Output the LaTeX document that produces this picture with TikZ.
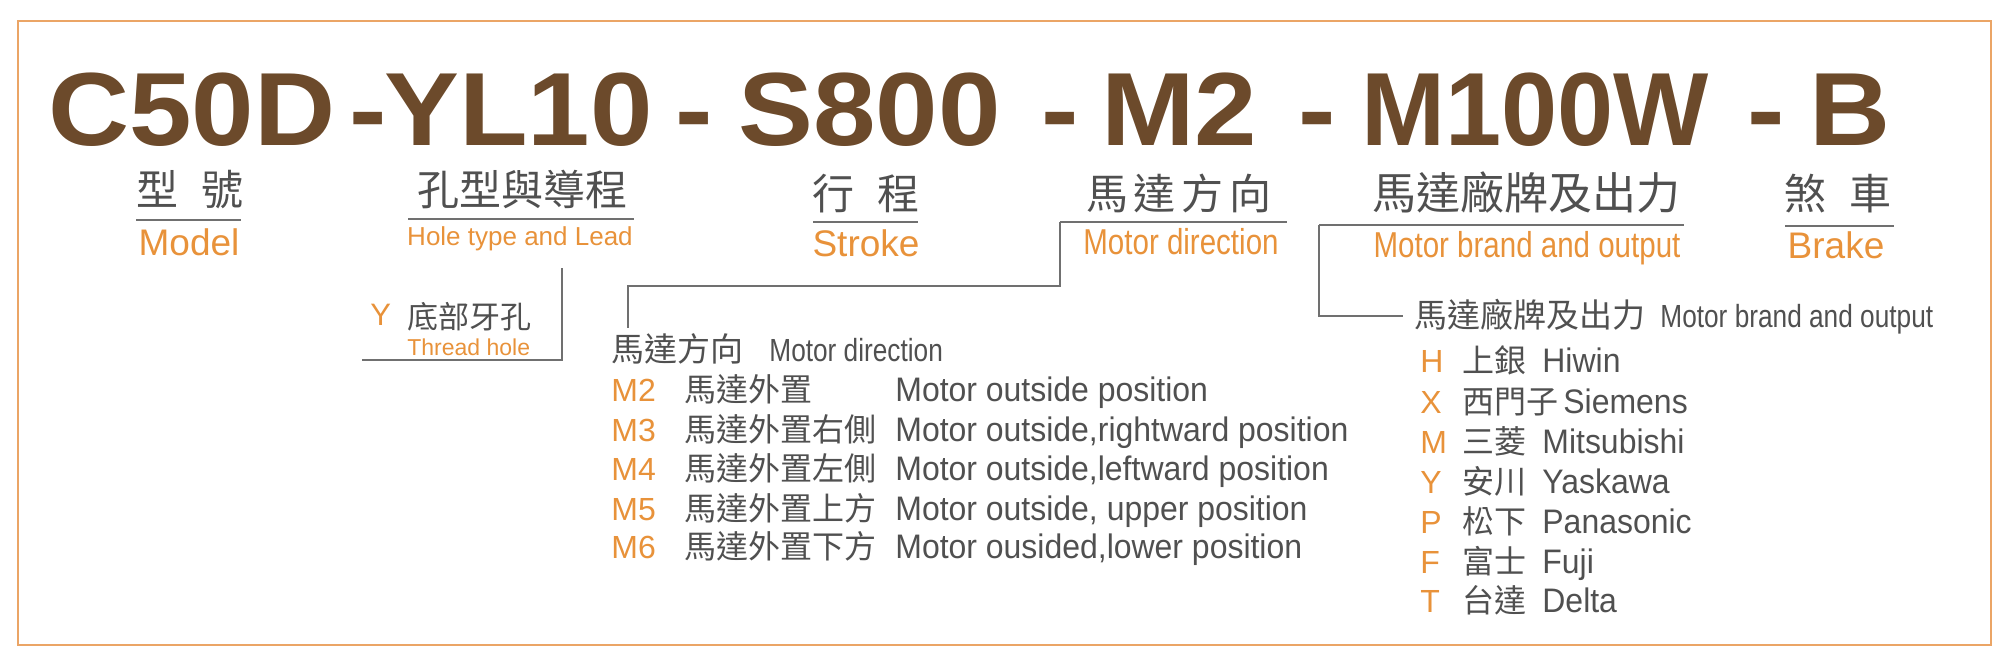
\documentclass[tikz,border=0pt]{standalone}
\usepackage{fontspec}
\setmainfont{Liberation Sans}
\newfontfamily\codefont{Liberation Sans}[FakeStretch=1.08]
\newfontfamily\codetight{Liberation Sans}[FakeStretch=0.97]
\newfontfamily\condfont{Liberation Sans}[FakeStretch=0.82]
\newfontfamily\rowfont{Liberation Sans}[FakeStretch=0.94]
\newfontfamily\cjk{Noto Sans CJK TC}
\definecolor{codebrown}{HTML}{6C4A2B}
\definecolor{labelorange}{HTML}{E8923A}
\definecolor{frameorange}{HTML}{EBA566}
\definecolor{textgray}{HTML}{505050}
\definecolor{linegray}{HTML}{707070}
\begin{document}
\begin{tikzpicture}[x=0.5pt,y=-0.5pt,inner sep=0pt,
  code/.style={font=\codefont\bfseries\fontsize{52}{52}\selectfont,text=codebrown,anchor=base west},
  codet/.style={font=\codetight\bfseries\fontsize{52}{52}\selectfont,text=codebrown,anchor=base west},
  head/.style={font=\cjk\fontsize{21}{21}\selectfont,text=textgray,anchor=base},
  sub/.style={font=\fontsize{18.5}{18.5}\selectfont,text=labelorange,anchor=base},
  subcond/.style={font=\condfont\fontsize{18}{18}\selectfont,text=labelorange,anchor=base},
  smallsub/.style={font=\fontsize{11.5}{11.5}\selectfont,text=labelorange,anchor=base west},
  letter/.style={font=\fontsize{16}{16}\selectfont,text=labelorange,anchor=base west},
  cjkrow/.style={font=\cjk\fontsize{16}{16}\selectfont,text=textgray,anchor=base west},
  rowtext/.style={font=\rowfont\fontsize{17}{17}\selectfont,text=textgray,anchor=base west},
  titlecjk/.style={font=\cjk\fontsize{16.5}{16.5}\selectfont,text=textgray,anchor=base west},
  titletext/.style={font=\condfont\fontsize{16}{16}\selectfont,text=textgray,anchor=base west},
  rule/.style={draw=linegray,line width=1pt}]
\useasboundingbox (0,0) rectangle (2010,660);
\draw [frameorange,line width=1pt] (18,21) rectangle (1991,645);
\node (c50d) at (48,145) [code] {C50D};
\node (dash1) at (349,145) [code] {-};
\node (yl10) at (384,145) [code] {YL10};
\node (dash2) at (675,145) [code] {-};
\node (s800) at (738,145) [code] {S800};
\node (dash3) at (1041,145) [code] {-};
\node (m2) at (1101,145) [code] {M2};
\node (dash4) at (1298,145) [code] {-};
\node (m100w) at (1361,145) [codet] {M100W};
\node (dash5) at (1747,145) [code] {-};
\node (b) at (1809,145) [code] {B};
\node (xinghao) at (190,205) [head] {型\hspace{0.55em}號};
\node (model) at (189,255) [sub] {Model};
\node (kongxing) at (522,205) [head] {孔型與導程};
\node (hole) at (520,245) [sub,font=\fontsize{13}{13}\selectfont] {Hole type and Lead};
\node (xingcheng) at (866,209) [head] {行\hspace{0.55em}程};
\node (stroke) at (866,256) [sub] {Stroke};
\node (mada) at (1179,209) [head] {馬\kern3pt達\kern3pt方\kern3pt向};
\node (motordir) at (1181,254) [subcond] {Motor direction};
\node (brand) at (1526,209) [head,font=\cjk\fontsize{22}{22}\selectfont] {馬達廠牌及出力};
\node (brandsub) at (1527,257) [subcond] {Motor brand and output};
\node (shache) at (1838,209) [head] {煞\hspace{0.55em}車};
\node (brake) at (1836,258) [sub] {Brake};
\coordinate (modelL) at (136,220);
\coordinate (modelR) at (241,220);
\coordinate (holeL) at (408,219);
\coordinate (holeR) at (634,219);
\coordinate (strokeL) at (813,222);
\coordinate (strokeR) at (918,222);
\coordinate (mdL) at (1060,222);
\coordinate (mdR) at (1287,222);
\coordinate (brandL) at (1319,225);
\coordinate (brandR) at (1684,225);
\coordinate (brakeL) at (1785,226);
\coordinate (brakeR) at (1894,226);
\draw [rule] (modelL) -- (modelR);
\draw [rule] (holeL) -- (holeR);
\draw [rule] (strokeL) -- (strokeR);
\draw [rule] (mdL) -- (mdR);
\draw [rule] (brandL) -- (brandR);
\draw [rule] (brakeL) -- (brakeR);
\node (yk) at (370,325) [letter,font=\fontsize{15.5}{15.5}\selectfont] {Y};
\node (dibu) at (407,328) [cjkrow,font=\cjk\fontsize{15.5}{15.5}\selectfont] {底部牙孔};
\node (thread) at (407,355) [smallsub] {Thread hole};
\coordinate (holetop) at (562,268);
\coordinate (holeend) at (362,360);
\draw [rule] (holetop) |- (holeend);
\coordinate (mdknee) at (628,286);
\coordinate (mdend) at (628,328);
\draw [rule] (mdL) |- (mdknee) -- (mdend);
\coordinate (brandend) at (1403,316);
\draw [rule] (brandL) |- (brandend);
\node (mdtitle) at (611,361) [titlecjk] {馬達方向};
\node (mdtitleen) at (769,361) [titletext] {Motor direction};
\node (km2) at (611,401) [letter] {M2};
\node (cm2) at (684,401) [cjkrow] {馬達外置};
\node (em2) at (895,401) [rowtext] {Motor outside position};
\node (km3) at (611,441) [letter] {M3};
\node (cm3) at (684,441) [cjkrow] {馬達外置右側};
\node (em3) at (895,441) [rowtext] {Motor outside,rightward position};
\node (km4) at (611,480) [letter] {M4};
\node (cm4) at (684,480) [cjkrow] {馬達外置左側};
\node (em4) at (895,480) [rowtext] {Motor outside,leftward position};
\node (km5) at (611,520) [letter] {M5};
\node (cm5) at (684,520) [cjkrow] {馬達外置上方};
\node (em5) at (895,520) [rowtext] {Motor outside, upper position};
\node (km6) at (611,558) [letter] {M6};
\node (cm6) at (684,558) [cjkrow] {馬達外置下方};
\node (em6) at (895,558) [rowtext] {Motor ousided,lower position};
\node (brtitle) at (1414,327) [titlecjk] {馬達廠牌及出力};
\node (brtitleen) at (1660,327) [titletext] {Motor brand and output};
\node (kh) at (1420,372) [letter] {H};
\node (ch) at (1462,372) [cjkrow] {上銀};
\node (eh) at (1542,372) [rowtext] {Hiwin};
\node (kx) at (1420,413) [letter] {X};
\node (cx) at (1462,413) [cjkrow] {西門子};
\node (ex) at (1563,413) [rowtext] {Siemens};
\node (km) at (1420,453) [letter] {M};
\node (cmi) at (1462,453) [cjkrow] {三菱};
\node (emi) at (1542,453) [rowtext] {Mitsubishi};
\node (ky) at (1420,493) [letter] {Y};
\node (cy) at (1462,493) [cjkrow] {安川};
\node (ey) at (1542,493) [rowtext] {Yaskawa};
\node (kp) at (1420,533) [letter] {P};
\node (cp) at (1462,533) [cjkrow] {松下};
\node (ep) at (1542,533) [rowtext] {Panasonic};
\node (kf) at (1420,573) [letter] {F};
\node (cf) at (1462,573) [cjkrow] {富士};
\node (ef) at (1542,573) [rowtext] {Fuji};
\node (kt) at (1420,612) [letter] {T};
\node (ct) at (1462,612) [cjkrow] {台達};
\node (et) at (1542,612) [rowtext] {Delta};
\end{tikzpicture}
\end{document}
